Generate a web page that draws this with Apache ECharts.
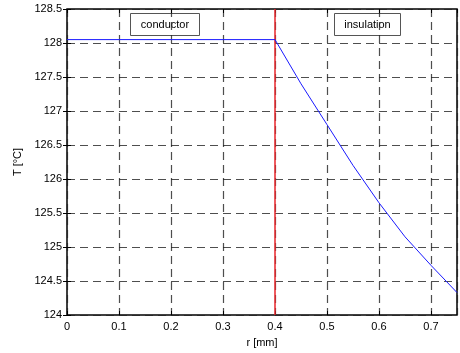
<!DOCTYPE html>
<html>
<head>
<meta charset="utf-8">
<script src="https://cdn.jsdelivr.net/npm/echarts@6/dist/echarts.min.js"></script>
<style>
html,body{margin:0;padding:0;background:#fff;}
#main{width:460px;height:353px;}
</style>
</head>
<body>
<div id="main"></div>
<script>
// temperature profile
var rCond = [0, 0.4];
var tCond = [128.05, 128.05];
var rIns = [0.4, 0.45, 0.5, 0.55, 0.6, 0.65, 0.7, 0.75];
var tIns = [128.05, 127.4, 126.8, 126.2, 125.65, 125.15, 124.73, 124.33];
var rBoundary = 0.4;
var regionLabels = ['conductor', 'insulation'];

var font = 'Liberation Sans, Arial, sans-serif';
var chart = echarts.init(document.getElementById('main'), null, {renderer: 'canvas'});

var lineData = [];
for (var i = 0; i < rCond.length; i++) lineData.push([rCond[i], tCond[i]]);
for (var j = 1; j < rIns.length; j++) lineData.push([rIns[j], tIns[j]]);

var dashed = {show: true, lineStyle: {color: '#222', type: [8, 5], width: 1.2, opacity: 0.8}};
var tickIn = {show: true, inside: true, length: 4, lineStyle: {color: '#000'}};

var option = {
  animation: false,
  backgroundColor: '#fff',
  grid: {left: 67, right: 3, top: 9, bottom: 36, show: true, borderColor: '#000', borderWidth: 1.5, backgroundColor: 'transparent'},
  xAxis: [{
    type: 'value', min: 0, max: 0.75, interval: 0.1,
    name: 'r [mm]', nameLocation: 'middle', nameGap: 22,
    nameTextStyle: {color: '#000', fontSize: 11, fontFamily: font},
    axisLine: {show: false}, axisTick: tickIn,
    axisLabel: {color: '#000', fontSize: 11, fontFamily: font, margin: 6, showMaxLabel: false,
      formatter: function (v) { return v === 0 ? '0' : String(Math.round(v * 10) / 10); }},
    splitLine: dashed
  }, {
    type: 'value', min: 0, max: 0.75, interval: 0.1, position: 'top',
    axisLine: {show: false}, axisTick: tickIn, axisLabel: {show: false}, splitLine: {show: false}
  }],
  yAxis: [{
    type: 'value', min: 124, max: 128.5, interval: 0.5,
    name: 'T [°C]', nameLocation: 'middle', nameGap: 41,
    nameTextStyle: {color: '#000', fontSize: 11, fontFamily: font},
    axisLine: {show: false}, axisTick: tickIn,
    axisLabel: {color: '#000', fontSize: 11, fontFamily: font, margin: 5},
    splitLine: dashed
  }, {
    type: 'value', min: 124, max: 128.5, interval: 0.5, position: 'right',
    axisLine: {show: false}, axisTick: tickIn, axisLabel: {show: false}, splitLine: {show: false}
  }],
  series: [{
    type: 'line', data: [[rBoundary, 124], [rBoundary, 128.5]],
    symbol: 'none', lineStyle: {color: '#e8262b', width: 1.5}, z: 3
  }, {
    type: 'line', data: lineData, symbol: 'none',
    lineStyle: {color: '#1a1aff', width: 1}, z: 4
  }],
  graphic: [{
    type: 'group', left: 130, top: 13,
    children: [
      {type: 'rect', shape: {x: 0, y: 0, width: 69, height: 22}, style: {fill: '#fff', stroke: '#555', lineWidth: 1}},
      {type: 'text', x: 34.5, y: 11, style: {text: regionLabels[0], fill: '#000', font: '11px ' + font, align: 'center', verticalAlign: 'middle'}}
    ]
  }, {
    type: 'group', left: 334, top: 13,
    children: [
      {type: 'rect', shape: {x: 0, y: 0, width: 66, height: 22}, style: {fill: '#fff', stroke: '#555', lineWidth: 1}},
      {type: 'text', x: 33, y: 11, style: {text: regionLabels[1], fill: '#000', font: '11px ' + font, align: 'center', verticalAlign: 'middle'}}
    ]
  }]
};
chart.setOption(option);
</script>
</body>
</html>
